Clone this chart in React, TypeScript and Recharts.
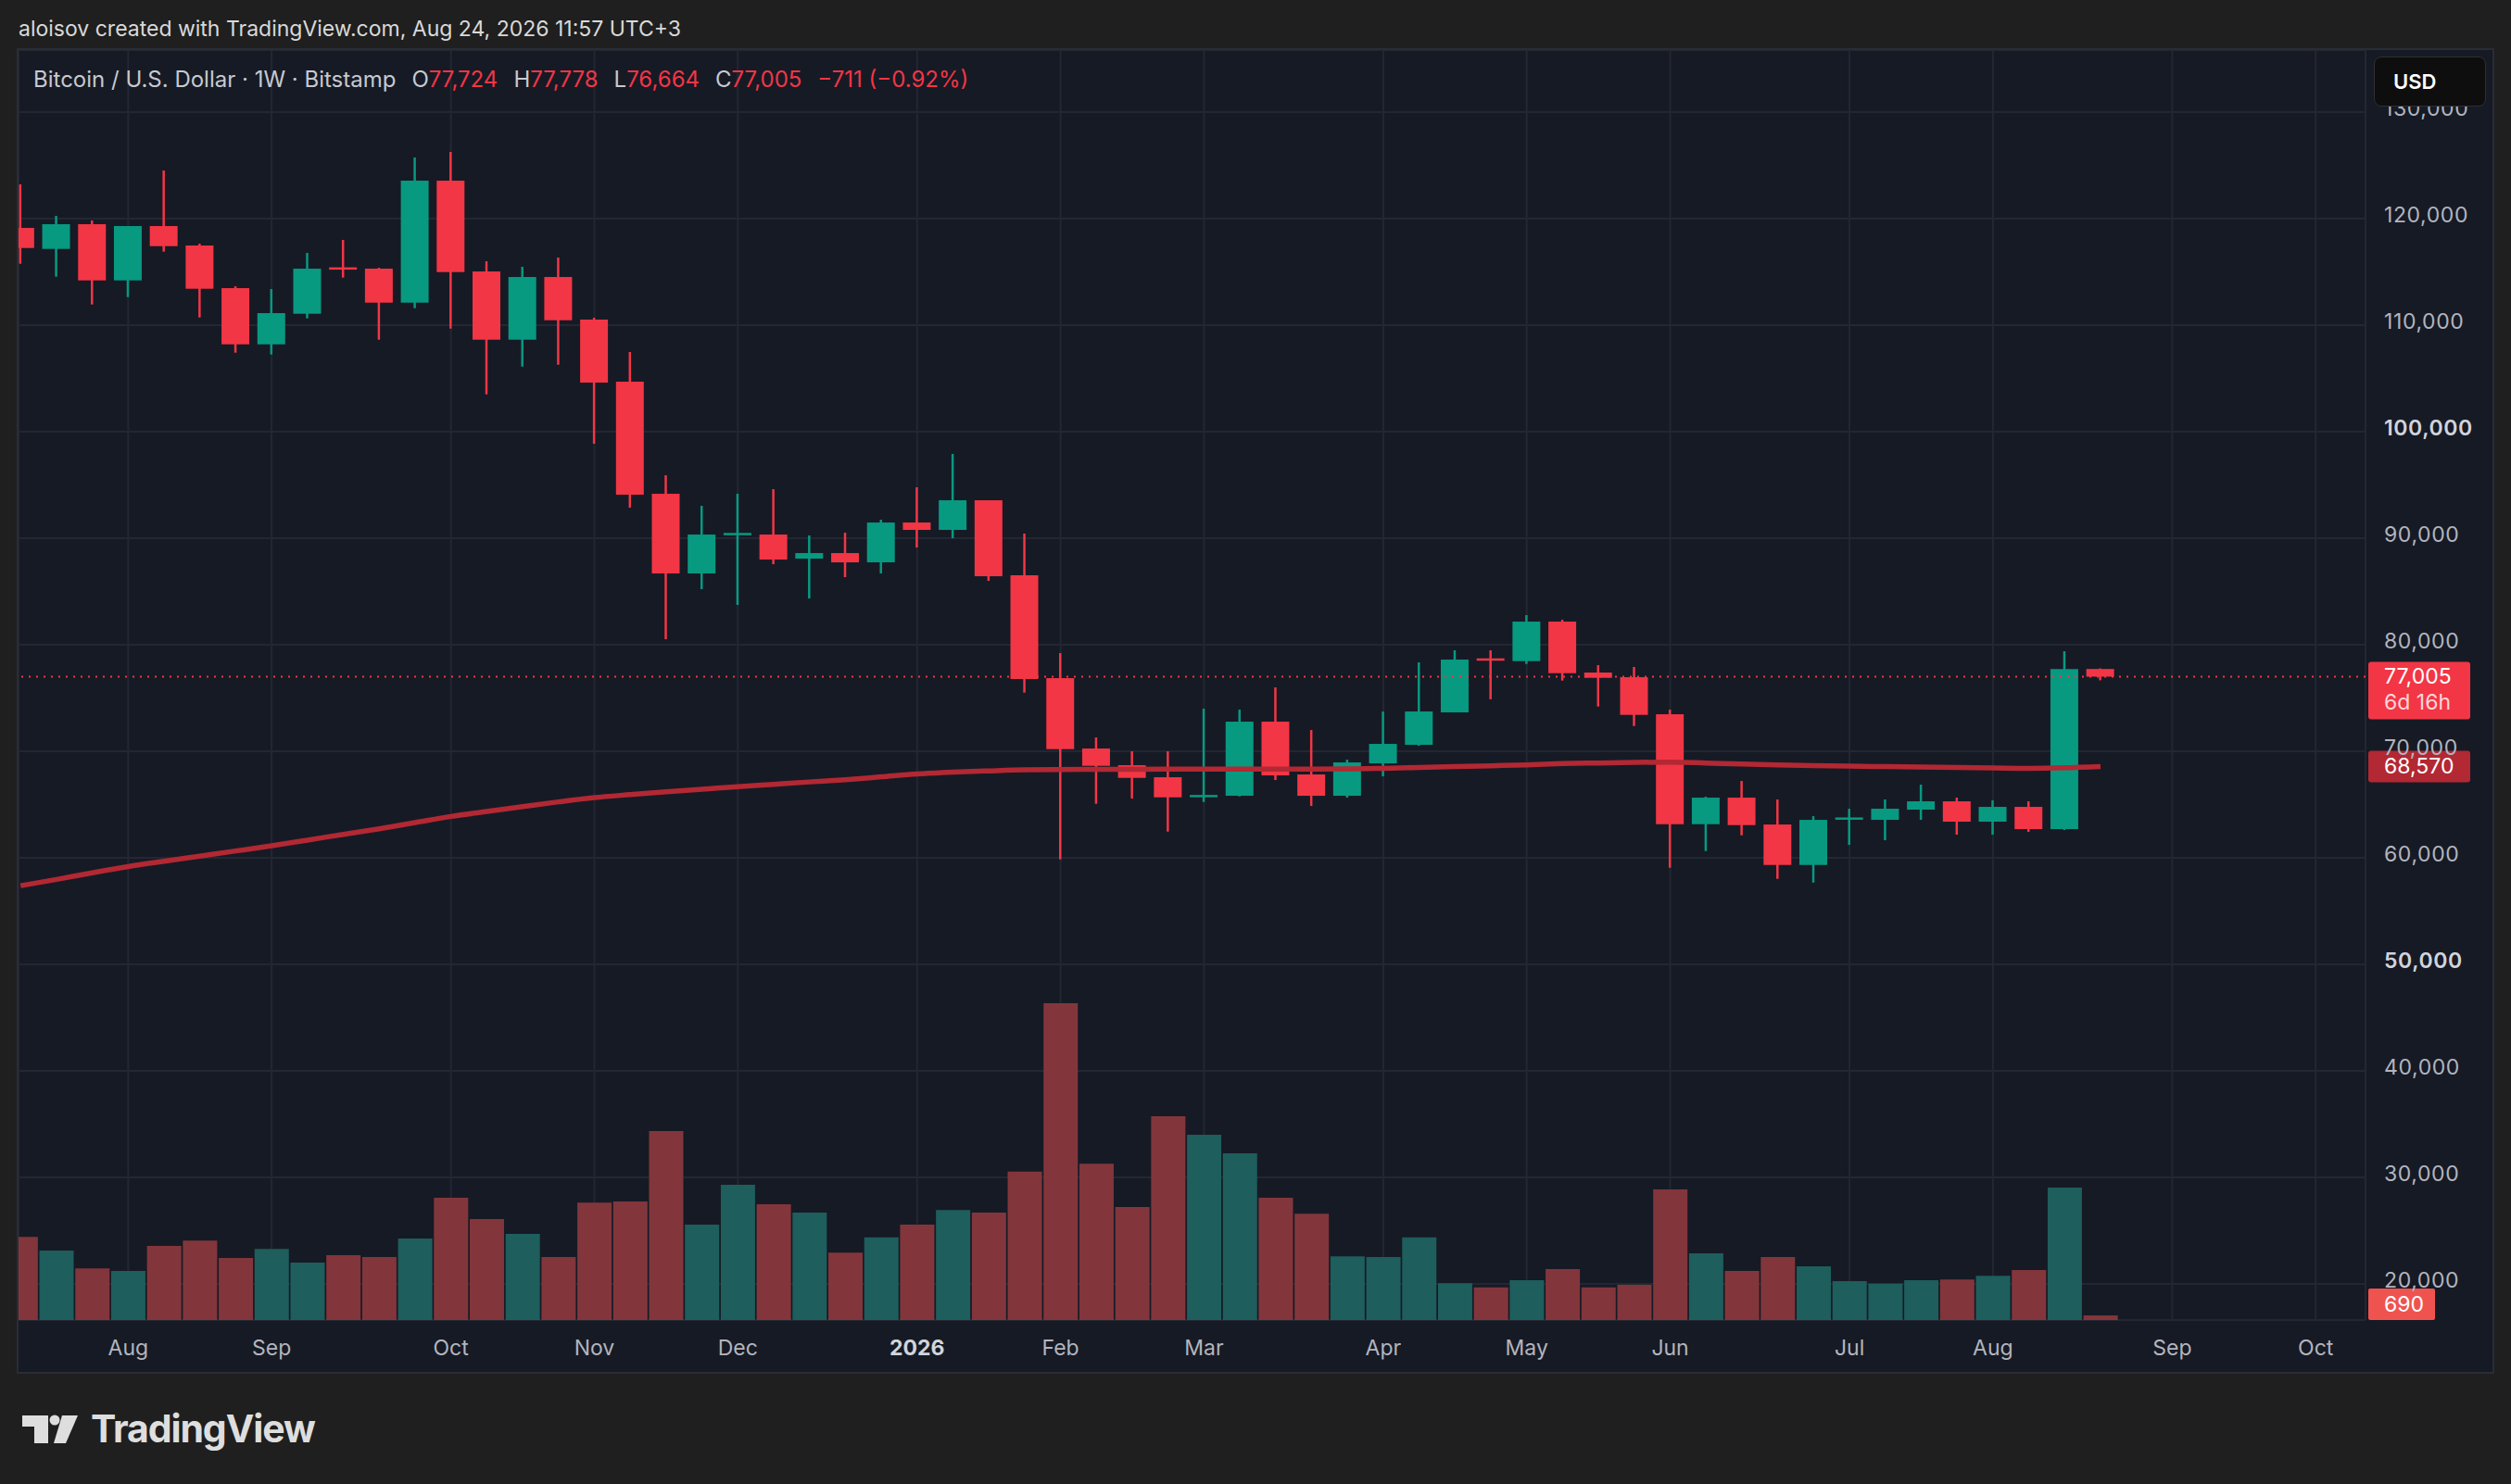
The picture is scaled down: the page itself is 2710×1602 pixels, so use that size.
// BTC/USD weekly, TradingView dark snapshot — candles, volume overlay, moving average

import { ComposedChart, Bar, Line, XAxis, YAxis, CartesianGrid, ReferenceLine, Cell } from 'recharts'

// weekly OHLC, first week = Jul 14 2025, last = Aug 24 2026
const opens = [
  119129, 117158, 119477, 114201, 119303, 117477, 113476, 108200, 111070, 115390,
  115302, 112113, 123564, 115041, 108635, 114520, 110521, 104694, 94171, 86691,
  90373, 90344, 88083, 88605, 87735, 91474, 90779, 93562, 86521, 76867,
  70258, 68692, 67561, 65735, 65822, 72779, 67822, 65822, 68866, 70605,
  73649, 78700, 78461, 82172, 77388, 76954, 73475, 63154, 65647, 63125,
  59328, 63660, 63562, 64519, 65302, 63388, 64780, 62692, 77724,
]
const highs = [
  123216, 120260, 119825, 119303, 124521, 117650, 113650, 113389, 116781, 117998,
  115389, 125739, 126260, 115998, 115476, 116346, 110695, 107477, 95910, 93040,
  94171, 94606, 90257, 90518, 91735, 94780, 97910, 93562, 90434, 79215,
  71301, 69996, 69996, 73997, 73910, 75997, 71997, 69214, 73736, 78346,
  79476, 79476, 82780, 82346, 78084, 77910, 73910, 65734, 67213, 65474,
  63908, 64606, 65476, 66867, 65650, 65389, 65302, 79391, 77778,
]
const lows = [
  115766, 114549, 111940, 112635, 116897, 110722, 107417, 107243, 110635, 114462,
  108635, 111592, 109678, 103503, 106112, 106286, 98868, 92866, 80517, 85213,
  83735, 87561, 84343, 86344, 86691, 89127, 89997, 85995, 75505, 59850,
  65068, 65561, 62459, 65242, 65764, 67300, 64865, 65648, 67648, 70518,
  73649, 74880, 78200, 76634, 74200, 72373, 59066, 60632, 62110, 58023,
  57675, 61214, 61649, 63562, 62170, 62170, 62431, 62605, 76664,
]
const closes = [
  117244, 119477, 114201, 119303, 117418, 113418, 108200, 111128, 115302, 115250,
  112113, 123564, 114983, 108635, 114520, 110461, 104607, 94084, 86691, 90344,
  90400, 87996, 88605, 87735, 91474, 90779, 93562, 86430, 76780, 70200,
  68634, 67503, 65677, 65850, 72779, 67735, 65822, 68953, 70692, 73736,
  78607, 78520, 82172, 77330, 76896, 73417, 63154, 65647, 63067, 59328,
  63560, 63700, 64606, 65302, 63388, 64780, 62692, 77716, 77005,
]
const volumes = [
  12400, 10350, 7700, 7300, 11050, 11850, 9250, 10600, 8550, 9650,
  9400, 12150, 18200, 15050, 12850, 9400, 17500, 17650, 28150, 14200,
  20150, 17250, 16000, 10050, 12300, 14200, 16400, 16000, 22100, 47200,
  23300, 16850, 30350, 27600, 24850, 18200, 15850, 9500, 9400, 12300,
  5500, 4850, 5950, 7600, 4850, 5250, 19450, 9950, 7300, 9400,
  8000, 5800, 5400, 5950, 6050, 6600, 7450, 19750, 690,
]
const movingAvg = [
  57380, 57970, 58590, 59180, 59680, 60160, 60640, 61130, 61660, 62200,
  62720, 63300, 63880, 64340, 64800, 65250, 65650, 65930, 66190, 66430,
  66680, 66900, 67120, 67330, 67600, 67870, 68040, 68160, 68260, 68290,
  68300, 68310, 68320, 68330, 68330, 68330, 68330, 68340, 68400, 68480,
  68560, 68640, 68720, 68840, 68900, 68960, 68980, 68900, 68800, 68720,
  68650, 68600, 68560, 68520, 68480, 68440, 68400, 68450, 68570,
]

// month ticks: week index of first bar in each month
const monthIdx = [3, 7, 12, 16, 20, 25, 29, 33, 38, 42, 46, 51, 55, 60, 64]
const monthLabels = ['Aug', 'Sep', 'Oct', 'Nov', 'Dec', '2026', 'Feb', 'Mar', 'Apr', 'May', 'Jun', 'Jul', 'Aug', 'Sep', 'Oct']
const priceTicks = [20000, 30000, 40000, 50000, 60000, 70000, 80000, 90000, 100000, 110000, 120000, 130000]

const rows = opens.map((o, i) => ({
  i, o, h: highs[i], l: lows[i], c: closes[i], v: volumes[i], ma: movingAvg[i],
  range: [lows[i], highs[i]],
}))

const UP = '#089981'
const DOWN = '#f23645'
const VOL_UP = '#1e5e5d'
const VOL_DOWN = '#82363b'
const X_DOMAIN: [number, number] = [-0.057, 65.39]
const FONT = 'Inter, "Noto Sans", sans-serif'

const fmt = (n: number) => n.toLocaleString('en-US')
const last = rows[rows.length - 1]
const prevClose = closes[closes.length - 2]
const chg = last.c - prevClose
const chgPct = (chg / last.c) * 100
const minus = (n: number, s: string) => (n < 0 ? '\u2212' + s : s)

function Candle(props: any) {
  const { x, y, width, height, payload } = props
  const { o, h, l, c } = payload
  const top = Math.min(y, y + height)
  const H = Math.abs(height)
  const k = h > l ? H / (h - l) : 0
  const hiBody = Math.max(o, c)
  const loBody = Math.min(o, c)
  let bTop = top + (h - hiBody) * k
  let bH = (hiBody - loBody) * k
  if (bH < 2.5) { bTop = bTop + bH / 2 - 1.25; bH = 2.5 }
  const col = c >= o ? UP : DOWN
  const cx = x + width / 2
  return (
    <g>
      <rect x={cx - 1.25} y={top} width={2.5} height={H} fill={col} />
      <rect x={x} y={bTop} width={width} height={bH} fill={col} />
    </g>
  )
}

function PriceTick({ x, y, payload }: any) {
  const bold = payload.value === 100000 || payload.value === 50000
  return (
    <text x={x + 20} y={y - 4} dominantBaseline="central" fill={bold ? '#d1d4dc' : '#b2b5be'}
      fontSize={23} fontWeight={bold ? 600 : 400} fontFamily={FONT} letterSpacing={0.6}>
      {fmt(payload.value)}
    </text>
  )
}

function TimeTick({ x, y, payload }: any) {
  const k = monthIdx.indexOf(payload.value)
  const label = monthLabels[k] ?? ''
  const bold = label === '2026'
  return (
    <text x={x} y={y + 38} textAnchor="middle" fill={bold ? '#d1d4dc' : '#b2b5be'}
      fontSize={23} fontWeight={bold ? 700 : 400} fontFamily={FONT}>
      {label}
    </text>
  )
}

function LastPriceTag({ viewBox }: any) {
  const left = viewBox.x + viewBox.width + 3
  const y = viewBox.y
  return (
    <g>
      <rect x={left} y={y - 16} width={110} height={62} rx={3} fill="#f23645" />
      <text x={left + 17} y={y} dominantBaseline="central" fill="#ffffff" fontSize={23} fontFamily={FONT}>{fmt(last.c)}</text>
      <text x={left + 17} y={y + 28} dominantBaseline="central" fill="#ffd6d9" fontSize={23} fontFamily={FONT}>6d 16h</text>
    </g>
  )
}

function MaTag({ viewBox }: any) {
  const left = viewBox.x + viewBox.width + 3
  const y = viewBox.y
  return (
    <g>
      <rect x={left} y={y - 17} width={110} height={34} rx={3} fill="#b22833" />
      <text x={left + 17} y={y} dominantBaseline="central" fill="#ffffff" fontSize={23} fontFamily={FONT}>{fmt(last.ma)}</text>
    </g>
  )
}

function VolTag({ viewBox }: any) {
  const left = viewBox.x + viewBox.width + 3
  const top = Math.min(viewBox.y - 17, 1371 - 34)
  return (
    <g>
      <rect x={left} y={top} width={72} height={34} rx={2} fill="#ef5350" />
      <text x={left + 17} y={top + 17} dominantBaseline="central" fill="#ffffff" fontSize={23} fontFamily={FONT}>{fmt(last.v)}</text>
    </g>
  )
}

function Logo() {
  return (
    <div style={{ position: 'absolute', left: 24, top: 1518, height: 48, display: 'flex', alignItems: 'center' }}>
      <svg width={62} height={32} viewBox="0 0 62 32">
        <path d="M0 2 H28 V32 H13 V14 H0 Z" fill="#dedede" />
        <circle cx={35} cy={7} r={5.5} fill="#dedede" />
        <path d="M43 2 H60 L47 32 H34 Z" fill="#dedede" />
      </svg>
      <span style={{ marginLeft: 12, fontSize: 41, fontWeight: 700, color: '#dedede', letterSpacing: -1.1, fontFamily: FONT }}>
        TradingView
      </span>
    </div>
  )
}

export default function App() {
  const gap = 17
  return (
    <div style={{ position: 'absolute', left: 0, top: 0, width: 2710, height: 1602, background: '#1f1f1f', fontFamily: FONT, overflow: 'hidden' }}>
      <div style={{ position: 'absolute', left: 20, top: 17, lineHeight: '28px', fontSize: 23, color: '#d9d9d9' }}>
        aloisov created with TradingView.com, Aug 24, 2026 11:57 UTC+3
      </div>

      {/* pane frame */}
      <div style={{ position: 'absolute', left: 18, top: 52, width: 2674, height: 1431, boxSizing: 'border-box', border: '2px solid #2a2d36', background: '#161a25' }} />

      <div style={{ position: 'absolute', left: 20, top: 54 }}>
        <ComposedChart width={2670} height={1425} data={rows} margin={{ top: 0, right: 0, bottom: 0, left: 0 }}>
          <CartesianGrid stroke="#232733" strokeWidth={2} />
          <XAxis dataKey="i" type="number" domain={X_DOMAIN} allowDataOverflow ticks={monthIdx} interval={0}
            height={54} tickLine={false} axisLine={false} tickSize={0} tickMargin={0} tick={<TimeTick />} />
          <XAxis xAxisId="v" dataKey="i" type="number" domain={X_DOMAIN} allowDataOverflow hide />
          <YAxis orientation="right" width={137} domain={[16609, 135827]} allowDataOverflow ticks={priceTicks} interval={0}
            tickLine={false} axisLine={false} tickSize={0} tickMargin={0} tick={<PriceTick />} />
          <YAxis yAxisId="vol" domain={[0, 189200]} allowDataOverflow hide />

          <Bar xAxisId="v" yAxisId="vol" dataKey="v" barSize={37} isAnimationActive={false}>
            {rows.map((r) => (
              <Cell key={r.i} fill={r.c >= r.o ? VOL_UP : VOL_DOWN} />
            ))}
          </Bar>
          <Line dataKey="ma" type="monotone" stroke="#b22833" strokeWidth={5.5} dot={false} activeDot={false} isAnimationActive={false} />
          <Bar dataKey="range" barSize={30} shape={<Candle />} isAnimationActive={false} />

          <ReferenceLine y={last.c} stroke="#f23645" strokeWidth={2} strokeDasharray="2 6" label={<LastPriceTag />} />
          <ReferenceLine y={last.ma} stroke="none" label={<MaTag />} />
          <ReferenceLine yAxisId="vol" y={last.v} stroke="none" label={<VolTag />} />
        </ComposedChart>
      </div>

      {/* legend */}
      <div style={{ position: 'absolute', left: 36, top: 71, lineHeight: '30px', fontSize: 24, color: '#c7c9cf', whiteSpace: 'nowrap' }}>
        <span>Bitcoin / U.S. Dollar · 1W · Bitstamp</span>
        <span style={{ marginLeft: gap }}>O<span style={{ color: DOWN }}>{fmt(last.o)}</span></span>
        <span style={{ marginLeft: gap }}>H<span style={{ color: DOWN }}>{fmt(last.h)}</span></span>
        <span style={{ marginLeft: gap }}>L<span style={{ color: DOWN }}>{fmt(last.l)}</span></span>
        <span style={{ marginLeft: gap }}>C<span style={{ color: DOWN }}>{fmt(last.c)}</span></span>
        <span style={{ marginLeft: gap, color: DOWN }}>
          {minus(chg, fmt(Math.abs(chg)))} ({minus(chgPct, Math.abs(chgPct).toFixed(2) + '%')})
        </span>
      </div>

      {/* currency button */}
      <div style={{ position: 'absolute', left: 2562, top: 61, width: 121, height: 54, boxSizing: 'border-box', borderRadius: 8, background: '#0e0e0e', border: '1px solid #2f2f2f', color: '#ffffff', fontSize: 22, fontWeight: 600, lineHeight: '52px', paddingLeft: 20 }}>
        USD
      </div>

      <Logo />
    </div>
  )
}
